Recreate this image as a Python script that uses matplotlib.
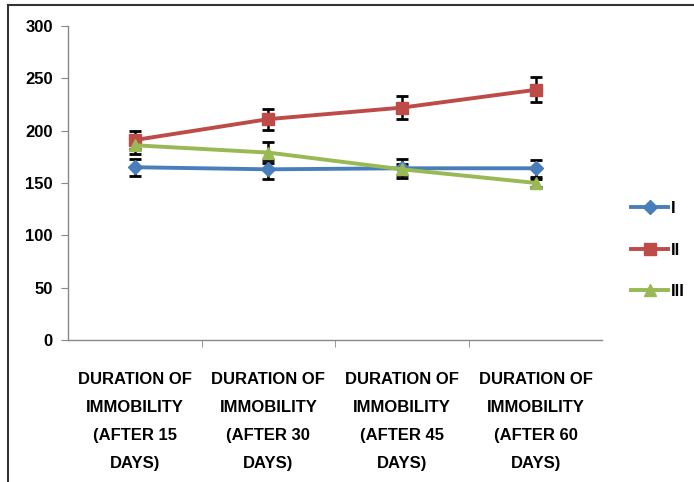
import matplotlib.pyplot as plt
from matplotlib.lines import Line2D

plt.rcParams['font.family'] = ['Liberation Sans Narrow', 'Liberation Sans', 'DejaVu Sans']
plt.rcParams['font.weight'] = 'bold'

# categories and series
categories = ['DURATION OF\nIMMOBILITY\n(AFTER 15\nDAYS)',
              'DURATION OF\nIMMOBILITY\n(AFTER 30\nDAYS)',
              'DURATION OF\nIMMOBILITY\n(AFTER 45\nDAYS)',
              'DURATION OF\nIMMOBILITY\n(AFTER 60\nDAYS)']
labels = ['I', 'II', 'III']
s1 = [165, 163, 164, 164]
s1_err = [8, 9, 9, 8]
s2 = [191, 211, 222, 239]
s2_err = [9, 10, 11, 12]
s3 = [186, 179, 163, 150]
s3_err = [8, 10, 5, 4]
y_ticks = [0, 50, 100, 150, 200, 250, 300]

colors = ['#4A7EBB', '#BE4B48', '#98B954']
markers = ['D', 's', '^']
msizes = [7, 9, 9]

fig = plt.figure(figsize=(6.94, 4.82), dpi=100)
ax = fig.add_axes([0.098, 0.295, 0.77, 0.651])

x = list(range(len(categories)))
for vals, errs, c, m, ms, lab in zip([s1, s2, s3], [s1_err, s2_err, s3_err],
                                     colors, markers, msizes, labels):
    ax.errorbar(x, vals, yerr=errs, color=c, marker=m, markersize=ms,
                linewidth=2.8, ecolor='black', elinewidth=1.8, capsize=4,
                capthick=2, label=lab, zorder=3)

ax.set_xlim(-0.5, 3.5)
ax.set_ylim(0, 300)
ax.set_yticks(y_ticks)
ax.set_yticklabels([str(v) for v in y_ticks], fontsize=12, fontweight='bold')
ax.set_xticks(x)
ax.set_xticklabels(categories, fontsize=12, fontweight='bold', linespacing=2.1)
ax.tick_params(axis='x', length=0, pad=23)
ax.tick_params(axis='y', length=5, color='#888888', pad=6)
ax.set_xticks([0.5, 1.5, 2.5], minor=True)
ax.tick_params(axis='x', which='minor', length=5, color='#888888')
for side in ['top', 'right']:
    ax.spines[side].set_visible(False)
for side in ['left', 'bottom']:
    ax.spines[side].set_color('#888888')
    ax.spines[side].set_linewidth(1)

handles = [Line2D([0], [0], color=c, marker=m, markersize=ms, linewidth=2.8)
           for c, m, ms in zip(colors, markers, msizes)]
fig.legend(handles, labels, loc='center left', bbox_to_anchor=(0.888, 0.481),
           frameon=False, handlelength=2.2, handletextpad=0.2,
           labelspacing=1.6, prop={'size': 12, 'weight': 'bold'})

# frame lines of the screenshot
fig.add_artist(Line2D([0.011, 1.0], [0.989, 0.989], color='#333333', linewidth=1.5))
fig.add_artist(Line2D([0.011, 0.011], [0.0, 0.989], color='#333333', linewidth=1.5))

fig.savefig('out.png', dpi=100)
